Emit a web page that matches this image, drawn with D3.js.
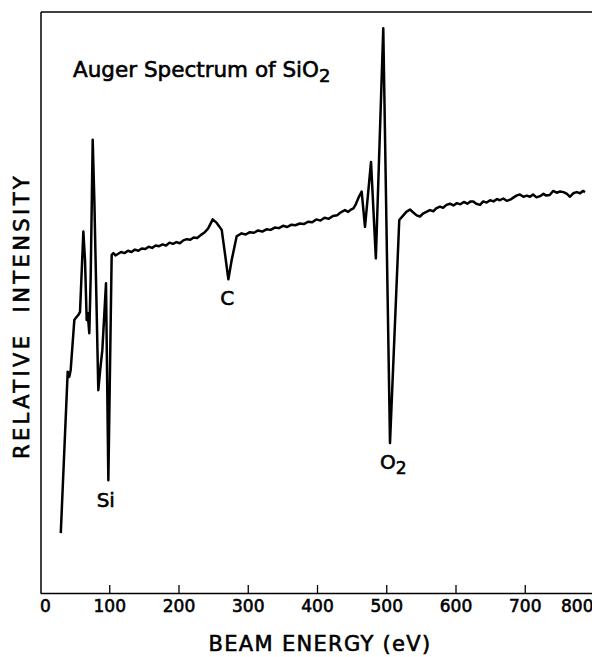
<!DOCTYPE html>
<html>
<head>
<meta charset="utf-8">
<script src="https://cdn.jsdelivr.net/npm/d3@7"></script>
<style>
  body { margin: 0; background: #fff; }
  text { font-family: "DejaVu Sans", sans-serif; fill: #000; stroke: #000; stroke-width: 0.6px; }
</style>
</head>
<body>
<svg id="chart"></svg>
<script>
// beam energy (eV) and relative intensity (arbitrary units, 0-100)
const energyEV = [
  30, 40, 42.3, 44.3, 49.6, 52, 55, 57.8, 62.6, 65, 67.4, 68.8, 71.2, 73.2, 76.1, 78.5,
  84.2, 87, 90, 95.3, 98.7, 103.5, 106, 109, 113, 117, 122, 127, 132, 137, 142, 147,
  152, 157, 162, 167, 172, 177, 182, 187, 192, 197, 202, 207, 212, 217, 222, 227,
  232, 238, 242.6, 246, 249.4, 255.2, 262.4, 267, 272, 276.8, 284, 291, 297, 303,
  309, 315, 321, 327, 333, 339, 345, 351, 357, 363, 369, 375, 381, 387, 393, 399,
  405, 411, 417, 423, 429, 433, 437, 440.4, 445, 449, 452.6, 456, 459.8, 464.5, 469.3, 478,
  485, 495.7, 505.4, 518.8, 524.6, 529, 534.3, 539, 544, 548.7, 553, 558, 563, 568,
  572, 577.6, 582, 587, 592, 597, 602, 607, 612, 617, 622, 625.7, 630, 635.4, 640, 645,
  650, 655, 660, 664, 669, 674, 679, 684, 688, 693, 698, 703, 707.6, 712, 717, 722,
  727, 731, 736, 741, 746, 751, 756, 761, 765, 770, 775, 780, 784, 787
];
const intensity = [
  10.3, 38.1, 37.2, 38.4, 47.0, 47.4, 47.8, 48.4, 62.2, 57.3, 47.0, 48.2, 44.7, 54.4, 78.0, 67.5,
  34.9, 38.5, 41.8, 53.3, 19.4, 58.2, 58.5, 58.1, 58.4, 58.7, 58.5, 58.9, 58.7, 59.1, 58.9, 59.3,
  59.2, 59.6, 59.4, 59.8, 59.7, 60.0, 59.8, 60.3, 60.1, 60.4, 60.2, 60.7, 60.9, 60.8, 61.2, 61.1,
  61.6, 62.1, 62.7, 63.5, 64.3, 63.7, 62.5, 58.5, 54.0, 57.3, 61.4, 61.9, 61.7, 62.1,
  62.0, 62.4, 62.2, 62.6, 62.5, 62.9, 62.8, 63.2, 63.0, 63.4, 63.3, 63.6, 63.5, 63.9, 63.8, 64.3,
  64.1, 64.6, 64.4, 64.9, 65.0, 65.4, 65.7, 65.9, 65.6, 66.0, 66.2, 66.9, 68.0, 69.1, 63.0, 74.2,
  57.6, 97.2, 25.8, 64.2, 65.0, 65.6, 66.0, 65.5, 65.0, 64.8, 65.3, 65.6, 65.9, 65.7,
  66.2, 66.5, 66.3, 66.8, 67.0, 66.7, 67.1, 66.9, 67.3, 67.0, 67.4, 67.4, 67.0, 66.8, 67.4, 67.2,
  67.6, 67.4, 67.8, 67.6, 67.9, 67.5, 67.7, 68.1, 68.4, 68.6, 68.2, 68.4, 68.2, 68.6, 68.1, 68.3,
  68.7, 68.4, 68.5, 69.2, 68.9, 69.1, 69.0, 68.7, 68.2, 68.8, 69.0, 68.8, 69.2, 69.0
];
const xTicks = [0, 100, 200, 300, 400, 500, 600, 700, 800];

// peak labels: [energy, intensity at label baseline, text, subscript]
const peakLabels = [
  [95, 14.8, "Si", ""],
  [270.5, 49.6, "C", ""],
  [510, 21.4, "O", "2"]
];

const width = 592, height = 657;
const svg = d3.select("#chart").attr("width", width).attr("height", height);

const x = d3.scaleLinear().domain([0, 800]).range([40, 594]);
const y = d3.scaleLinear().domain([0, 100]).range([593, 12]);

// frame: left and top lines
svg.append("line").attr("x1", 41).attr("x2", 41).attr("y1", 12).attr("y2", 593)
  .attr("stroke", "#000").attr("stroke-width", 1.5);
svg.append("line").attr("x1", 41).attr("x2", width).attr("y1", 12).attr("y2", 12)
  .attr("stroke", "#000").attr("stroke-width", 1.5);

// bottom axis, ticks pointing up
const xAxis = svg.append("g")
  .attr("transform", "translate(0,593)")
  .call(d3.axisBottom(x).tickValues(xTicks).tickSizeInner(-8).tickSizeOuter(0).tickPadding(7));
xAxis.select(".domain").attr("stroke-width", 1.5);
xAxis.selectAll(".tick line").attr("stroke-width", 1.3)
  .filter(d => d === 0).remove();
xAxis.selectAll(".tick text")
  .style("font-family", "DejaVu Sans").style("font-size", "17px").attr("fill", "#000")
  .filter(d => d === 800).attr("text-anchor", "end").attr("dx", -1);
xAxis.selectAll(".tick text").filter(d => d === 0).attr("dx", 5);

// spectrum trace
const line = d3.line().x((d, i) => x(energyEV[i])).y(d => y(d));
svg.append("path")
  .datum(intensity)
  .attr("d", line)
  .attr("fill", "none")
  .attr("stroke", "#000")
  .attr("stroke-width", 2.5)
  .attr("stroke-linejoin", "round");

// peak labels
peakLabels.forEach(([e, v, t, sub]) => {
  const txt = svg.append("text")
    .attr("x", x(e)).attr("y", y(v))
    .attr("text-anchor", "middle")
    .style("font-size", "20px")
    .text(t);
  if (sub) txt.append("tspan").attr("dy", 5).style("font-size", "17px").text(sub);
});

// title
const title = svg.append("text").attr("x", 73).attr("y", 77).style("font-size", "21.5px")
  .text("Auger Spectrum of SiO");
title.append("tspan").attr("dy", 5).style("font-size", "18px").text("2");

// axis titles
svg.append("text")
  .attr("x", 320).attr("y", 651)
  .attr("text-anchor", "middle")
  .style("font-size", "21px").style("letter-spacing", "1.3px")
  .text("BEAM ENERGY (eV)");

svg.append("text")
  .attr("transform", "translate(29,316) rotate(-90)")
  .attr("text-anchor", "middle")
  .style("font-size", "21px").style("letter-spacing", "3.4px").style("word-spacing", "10px")
  .text("RELATIVE INTENSITY");
</script>
</body>
</html>
